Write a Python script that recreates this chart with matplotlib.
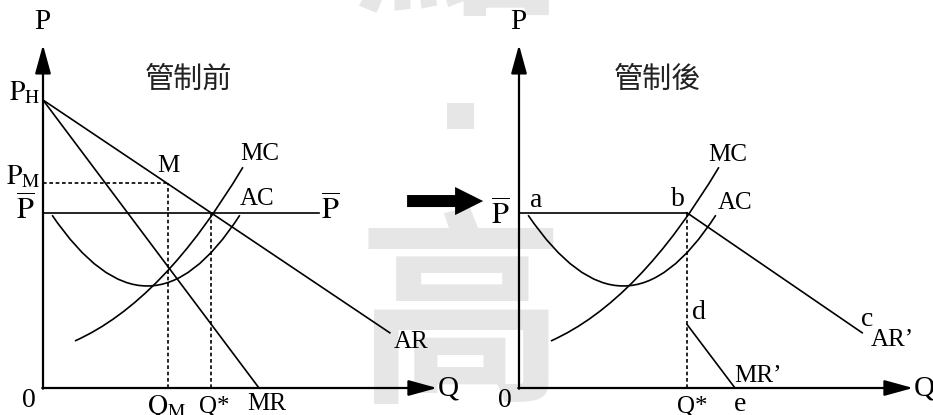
# %%
import numpy as np
import matplotlib.pyplot as plt
from matplotlib.path import Path
from matplotlib.patches import PathPatch, FancyArrow

plt.rcParams['mathtext.fontset'] = 'stix'
SERIF = ['Liberation Serif', 'DejaVu Serif']
CJK = ['Noto Sans CJK TC', 'DejaVu Sans']

# %%
# diagram values (1 unit = 24 px)
P_H = 12.0          # demand intercept
P_M = 8.55          # monopoly price
P_BAR = 7.3         # regulated price
Q_M = 5.2           # monopoly quantity
Q_STAR = 7.0        # regulated quantity
ar_q = [0.0, 14.45]
ar_p = [12.0, 2.3]
mr_q = [0.0, 9.0]
mr_p = [12.0, 0.0]
mr2_q = [7.0, 9.0]   # MR' after regulation
mr2_p = [2.65, 0.0]
# bezier control points for the cost curves
mc_pts = [(1.33, 1.96), (5.0, 3.6), (8.33, 9.2)]
ac_pts = [(0.38, 7.2), (4.4, 1.3), (8.2, 7.2)]

U = 24.0
W, H = 933, 415


def make_axes(fig, ox, oy=388):
    ax = fig.add_axes([0, 0, 1, 1])
    ax.set_xlim(-ox / U, (W - ox) / U)
    ax.set_ylim(-(H - oy) / U, oy / U)
    ax.axis('off')
    ax.patch.set_alpha(0)
    return ax


def axes_arrows(ax, xmax, ymax):
    style = '-|>,head_length=0.8,head_width=0.22'
    ax.annotate('', xy=(0, ymax), xytext=(0, -0.03),
                arrowprops=dict(arrowstyle=style, lw=1.6, color='black',
                                mutation_scale=22, shrinkA=0, shrinkB=0))
    ax.annotate('', xy=(xmax, 0), xytext=(-0.03, 0),
                arrowprops=dict(arrowstyle=style, lw=1.6, color='black',
                                mutation_scale=22, shrinkA=0, shrinkB=0))


def curve(ax, pts):
    path = Path(pts, [Path.MOVETO, Path.CURVE3, Path.CURVE3])
    ax.add_patch(PathPatch(path, fc='none', ec='black', lw=1.2))


def label(ax, x, y, s, size=18, **kw):
    ax.text(x, y, s, fontsize=size, family=SERIF, ha='center', va='center', **kw)


fig = plt.figure(figsize=(W / 100, H / 100), dpi=100)

# watermark
wm = fig.add_axes([0, 0, 1, 1])
wm.set_xlim(0, W)
wm.set_ylim(H, 0)
wm.axis('off')
wm.text(461, 218, '高', fontsize=150, family=CJK, fontweight='bold',
        color='#e6e6e6', ha='center', va='top')
wm.text(458, -170, '點', fontsize=150, family=CJK, fontweight='bold',
        color='#e6e6e6', ha='center', va='top')
wm.add_patch(plt.Rectangle((447, 103), 27, 26, color='#e6e6e6', lw=0))

dash = (0, (2.2, 1.6))

# %% left panel: before regulation
ax = make_axes(fig, 43)
axes_arrows(ax, 16.42, 14.3)
ax.plot(ar_q, ar_p, color='black', lw=1.2)
ax.plot(mr_q, mr_p, color='black', lw=1.2)
ax.plot([0, 11.5], [P_BAR, P_BAR], color='black', lw=1.2)
ax.plot([0, Q_M], [P_M, P_M], color='black', lw=1.2, ls=dash)
ax.plot([Q_M, Q_M], [0, P_M], color='black', lw=1.2, ls=dash)
ax.plot([Q_STAR, Q_STAR], [0, P_BAR], color='black', lw=1.2, ls=dash)
curve(ax, mc_pts)
curve(ax, ac_pts)

label(ax, -0.04, 15.25, 'P', 21)
ax.text(6.04, 12.83, '管制前', fontsize=21, family=CJK, color='#222222',
        ha='center', va='center')
label(ax, -0.75, 12.3, r'$\mathrm{P_H}$', 20)
label(ax, -0.83, 8.8, r'$\mathrm{P_M}$', 20)
label(ax, -0.71, 7.4, r'$\overline{\mathrm{P}}$', 22)
label(ax, 11.96, 7.4, r'$\overline{\mathrm{P}}$', 22)
label(ax, 5.21, 9.25, 'M')
label(ax, 9.04, 9.75, 'MC')
label(ax, 8.92, 7.88, 'AC')
label(ax, 15.33, 1.92, 'AR')
label(ax, 9.33, -0.68, 'MR')
label(ax, 7.12, -0.78, 'Q*')
label(ax, 5.17, -0.82, r'$\mathrm{Q_M}$', 20)
label(ax, -0.58, -0.5, '0', 20)
ax.text(16.45, 0.0, 'Q', fontsize=21, family=SERIF, ha='left', va='center')

# regulation arrow
ax.add_patch(FancyArrow(15.17, 7.79, 2.0, 0, width=0.5, head_width=1.17,
                        head_length=1.17, length_includes_head=False,
                        color='black', lw=0))

# %% right panel: after regulation
ax2 = make_axes(fig, 519)
axes_arrows(ax2, 16.42, 14.3)
ax2.plot([0, Q_STAR], [P_BAR, P_BAR], color='black', lw=1.2)
ax2.plot([Q_STAR, 14.3], [P_BAR, 2.3], color='black', lw=1.2)
ax2.plot(mr2_q, mr2_p, color='black', lw=1.2)
ax2.plot([Q_STAR, Q_STAR], [0, P_BAR], color='black', lw=1.2, ls=dash)
curve(ax2, mc_pts)
curve(ax2, ac_pts)

label(ax2, -0.04, 15.25, 'P', 21)
ax2.text(5.76, 12.83, '管制後', fontsize=21, family=CJK, color='#222222',
         ha='center', va='center')
label(ax2, -0.79, 7.2, r'$\overline{\mathrm{P}}$', 22)
label(ax2, 0.71, 7.8, 'a', 20)
label(ax2, 6.63, 7.85, 'b', 20)
label(ax2, 8.71, 9.71, 'MC')
label(ax2, 9.0, 7.71, 'AC')
label(ax2, 14.5, 2.85, 'c', 20)
label(ax2, 15.55, 2.0, 'AR’')
label(ax2, 7.5, 3.15, 'd', 20)
label(ax2, 9.95, 0.5, 'MR’')
label(ax2, 7.21, -0.78, 'Q*')
label(ax2, 9.21, -0.68, 'e', 20)
label(ax2, -0.58, -0.5, '0', 20)
ax2.text(16.45, 0.0, 'Q', fontsize=21, family=SERIF, ha='left', va='center')

fig.savefig('out.png', dpi=100)
